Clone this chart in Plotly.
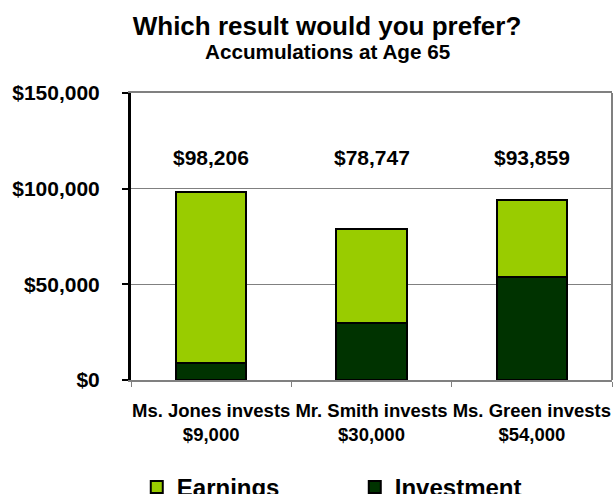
import plotly.graph_objects as go

categories = ["Ms. Jones invests<br>$9,000", "Mr. Smith invests<br>$30,000", "Ms. Green invests<br>$54,000"]
investment = [9000, 30000, 54000]
totals = [98206, 78747, 93859]
earnings = [t - i for t, i in zip(totals, investment)]
total_labels = ["$98,206", "$78,747", "$93,859"]

FONT = "Arial, Liberation Sans, sans-serif"

fig = go.Figure()
fig.add_trace(go.Bar(x=categories, y=investment, name="<b>Investment</b>",
                     marker=dict(color="#003300", line=dict(color="black", width=2))))
fig.add_trace(go.Bar(x=categories, y=earnings, name="<b>Earnings</b>",
                     marker=dict(color="#99CC00", line=dict(color="black", width=2))))

for c, lab in zip(categories, total_labels):
    fig.add_annotation(x=c, y=116300, text="<b>" + lab + "</b>", showarrow=False,
                       xanchor="center", yanchor="middle",
                       font=dict(family=FONT, size=21, color="black"))

fig.add_annotation(xref="paper", yref="paper", x=0.4076, y=1.143,
                   text="<b>Accumulations at Age 65</b>", showarrow=False,
                   xanchor="center", yanchor="middle",
                   font=dict(family=FONT, size=20.7, color="black"))

fig.add_shape(type="line", xref="paper", yref="paper", x0=1, x1=1, y0=0, y1=1,
              line=dict(color="#808080", width=2))

fig.update_layout(
    width=614, height=494,
    barmode="stack", bargap=0.56,
    paper_bgcolor="white", plot_bgcolor="white",
    margin=dict(l=131, r=2, t=93, b=114, autoexpand=False),
    title=dict(text="<b>Which result would you prefer?</b>", x=0.5326, xanchor="center",
               xref="container", yref="container", y=0.948, yanchor="middle",
               font=dict(family=FONT, size=26, color="black")),
    showlegend=True,
    legend=dict(orientation="h", x=0.012, y=-0.296, xanchor="left", yanchor="top",
                traceorder="reversed", entrywidth=173, entrywidthmode="pixels",
                font=dict(family=FONT, size=24, color="black"),
                bgcolor="rgba(0,0,0,0)"),
    xaxis=dict(showline=True, linecolor="#808080", linewidth=2, mirror=True,
               ticks="outside", tickson="boundaries", ticklen=5, tickcolor="#808080",
               showgrid=False, ticklabelstandoff=13, tickangle=0,
               tickprefix="<b>", ticksuffix="</b>",
               tickfont=dict(family=FONT, size=18.5, color="black")),
    yaxis=dict(range=[0, 150000], dtick=50000, tickprefix="<b>$", ticksuffix="</b>",
               tickformat=",d",
               showline=True, linecolor="black", linewidth=3,
               ticks="outside", ticklen=6, tickwidth=2, tickcolor="black",
               showgrid=True, gridcolor="#808080", gridwidth=1, zeroline=False,
               ticklabelstandoff=18,
               tickfont=dict(family=FONT, size=21, color="black")),
)

fig.write_html("out.html", config={"displayModeBar": False},
               post_script="document.body.style.margin='0';document.body.style.overflow='hidden';")
